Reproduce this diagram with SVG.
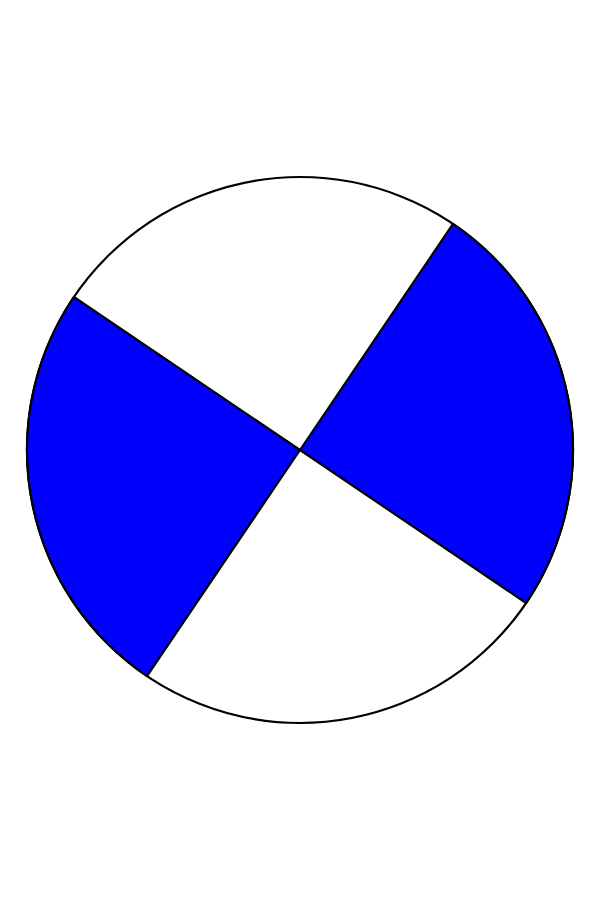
<svg xmlns="http://www.w3.org/2000/svg" width="600" height="900" viewBox="0 0 600 900">
<style>
.s{stroke:#000;stroke-width:2.2;stroke-linejoin:round}
.b{fill:#0000ff}
.w{fill:#fff}
</style>
<rect width="600" height="900" fill="#fff"/>
<g id="circle">
<circle class="s w" cx="300" cy="450" r="273"/>
</g>
<g id="sector-right">
<path class="s b" d="M300,450 L453,223.9 A273,273 0 0 1 526.1,603 Z"/>
</g>
<g id="sector-left">
<path class="s b" d="M300,450 L147,676.1 A273,273 0 0 1 73.9,297 Z"/>
</g>
</svg>
